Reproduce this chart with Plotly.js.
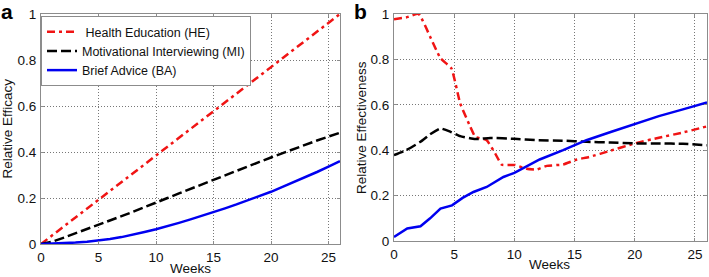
<!DOCTYPE html>
<html>
<head>
<meta charset="utf-8">
<script src="https://cdn.plot.ly/plotly-3.0.1.min.js"></script>
<style>html,body{margin:0;padding:0;background:#fff;}#chart{width:709px;height:277px;}</style>
</head>
<body>
<div id="chart"></div>
<script>
// ---- Data ----
const weeks = [0,1,2,3,4,5,6,7,8,9,10,11,12,13,14,15,16,17,18,19,20,21,22,23,24,25,26];

// Panel a: Relative Efficacy
const effHE = [0,0.038,0.077,0.115,0.154,0.192,0.231,0.269,0.308,0.346,0.385,0.423,0.462,0.5,0.538,0.577,0.615,0.654,0.692,0.731,0.769,0.808,0.846,0.885,0.923,0.962,1.0];
const effMI = [0,0.01,0.028,0.046,0.064,0.083,0.102,0.121,0.14,0.159,0.18,0.2,0.22,0.24,0.26,0.28,0.3,0.319,0.338,0.357,0.376,0.395,0.414,0.432,0.45,0.467,0.484];
const effBA = [0,0.001,0.003,0.006,0.01,0.015,0.022,0.03,0.04,0.052,0.064,0.077,0.092,0.107,0.122,0.138,0.155,0.172,0.19,0.208,0.227,0.248,0.269,0.291,0.313,0.336,0.36];

// Panel b: Relative Effectiveness
const weeksHEb = [0,1,2.05,3,3.86,4.77,5.5,6.34,6.75,7.7,8.4,8.96,10.06,11.0,11.85,12.7,14.05,15.2,16.2,18,20,22,24,26];
const effectHE = [0.977,0.985,1.0,0.9,0.805,0.76,0.606,0.503,0.459,0.444,0.386,0.336,0.335,0.318,0.315,0.331,0.337,0.359,0.37,0.398,0.43,0.455,0.478,0.505];
const weeksMIb = [0,1,2.2,3,3.86,4.7,5.5,6.75,7.98,10,11.85,14,16,18,20,22,24,26];
const effectMI = [0.378,0.4,0.437,0.47,0.496,0.481,0.462,0.449,0.454,0.45,0.444,0.442,0.437,0.434,0.43,0.43,0.428,0.422];
const weeksBAb = [0,1.1,2.2,3,3.86,4.82,5.7,6.6,7.7,9.09,10,12.1,14.05,15.98,18,20,22,24,26];
const effectBA = [0.018,0.055,0.065,0.1,0.143,0.157,0.19,0.216,0.238,0.282,0.3,0.359,0.4,0.444,0.48,0.515,0.55,0.58,0.61];

const seriesNames = [' Health Education (HE)', 'Motivational Interviewing (MI)', 'Brief Advice (BA)'];
const xTicks = [0,5,10,15,20,25];
const yTicks = [0,0.2,0.4,0.6,0.8,1];
const yTickText = ['0','0.2','0.4','0.6','0.8','1'];

// ---- Styles ----
const RED = 'rgb(240,20,20)', BLACK = '#000', BLUE = 'rgb(0,0,240)';
const styHE = {color: RED, width: 2.5, dash: '8px,4px,3px,4px'};
const styMI = {color: BLACK, width: 2.5, dash: '10px,4px'};
const styBA = {color: BLUE, width: 2.5};

const traces = [
  {x: weeks, y: effHE, name: seriesNames[0], mode: 'lines', line: styHE, xaxis: 'x', yaxis: 'y'},
  {x: weeks, y: effMI, name: seriesNames[1], mode: 'lines', line: styMI, xaxis: 'x', yaxis: 'y'},
  {x: weeks, y: effBA, name: seriesNames[2], mode: 'lines', line: styBA, xaxis: 'x', yaxis: 'y'},
  {x: weeksHEb, y: effectHE, name: seriesNames[0], mode: 'lines', line: Object.assign({shape:'spline', smoothing:0.4}, styHE), xaxis: 'x2', yaxis: 'y2', showlegend: false},
  {x: weeksMIb, y: effectMI, name: seriesNames[1], mode: 'lines', line: Object.assign({shape:'spline', smoothing:0.4}, styMI), xaxis: 'x2', yaxis: 'y2', showlegend: false},
  {x: weeksBAb, y: effectBA, name: seriesNames[2], mode: 'lines', line: styBA, xaxis: 'x2', yaxis: 'y2', showlegend: false}
];

const FONT = 'Liberation Sans, Arial, sans-serif';
const AXC = '#8c8c8c';
function xax(domain) {
  return {domain: domain, range: [0,26], tickvals: xTicks, ticktext: xTicks.map(String),
    showgrid: true, gridcolor: '#777', griddash: '1px,2px', gridwidth: 1, zeroline: false,
    showline: true, linecolor: AXC, linewidth: 1, mirror: 'ticks',
    ticks: 'inside', ticklen: 3, tickcolor: AXC,
    tickfont: {family: FONT, size: 13.5, color: '#111'}, ticklabelstandoff: 1, fixedrange: true};
}
function yax(domain, anchor) {
  return {domain: domain, anchor: anchor, range: [0,1], tickvals: yTicks, ticktext: yTickText,
    showgrid: true, gridcolor: '#777', griddash: '1px,2px', gridwidth: 1, zeroline: false,
    showline: true, linecolor: AXC, linewidth: 1, mirror: 'ticks',
    ticks: 'inside', ticklen: 3, tickcolor: AXC,
    tickfont: {family: FONT, size: 13.5, color: '#111'}, ticklabelstandoff: 1, fixedrange: true};
}

const W = 709, H = 277;
const layout = {
  width: W, height: H,
  margin: {l: 0, r: 0, t: 0, b: 0},
  paper_bgcolor: '#fff', plot_bgcolor: '#fff',
  font: {family: FONT, color: '#111'},
  xaxis: Object.assign(xax([41/W, 340/W]), {anchor: 'y'}),
  yaxis: yax([(H-244)/H, (H-14)/H], 'x'),
  xaxis2: Object.assign(xax([394/W, 707/W]), {anchor: 'y2'}),
  yaxis2: yax([(H-241)/H, (H-14)/H], 'x2'),
  showlegend: true,
  legend: {x: 41/W, y: (H-16)/H, xanchor: 'left', yanchor: 'top',
    bgcolor: '#fff', bordercolor: AXC, borderwidth: 1,
    font: {family: FONT, size: 12.5, color: '#111'}, tracegroupgap: 0, itemwidth: 30},
  annotations: [
    {text: '<b>a</b>', x: 0, y: 1, xref: 'paper', yref: 'paper', xanchor: 'left', yanchor: 'top', xshift: -1, yshift: 2, showarrow: false, font: {family: FONT, size: 21, color: '#000'}},
    {text: '<b>b</b>', x: 352/W, y: 1, xref: 'paper', yref: 'paper', xanchor: 'left', yanchor: 'top', yshift: 2, showarrow: false, font: {family: FONT, size: 21, color: '#000'}},
    {text: 'Weeks', x: 190/W, y: 0, xref: 'paper', yref: 'paper', xanchor: 'center', yanchor: 'bottom', yshift: 0, borderpad: 0, showarrow: false, font: {family: FONT, size: 13.5, color: '#111'}},
    {text: 'Weeks', x: 549/W, y: 0, xref: 'paper', yref: 'paper', xanchor: 'center', yanchor: 'bottom', yshift: 4, borderpad: 0, showarrow: false, font: {family: FONT, size: 13.5, color: '#111'}},
    {text: 'Relative Efficacy', x: 6.5/W, y: (H-129)/H, xref: 'paper', yref: 'paper', xanchor: 'center', yanchor: 'middle', textangle: -90, showarrow: false, font: {family: FONT, size: 13.5, color: '#111'}},
    {text: 'Relative Effectiveness', x: 361/W, y: (H-128)/H, xref: 'paper', yref: 'paper', xanchor: 'center', yanchor: 'middle', textangle: -90, showarrow: false, font: {family: FONT, size: 13.5, color: '#111'}}
  ]
};

Plotly.newPlot('chart', traces, layout, {displayModeBar: false, staticPlot: true});
</script>
</body>
</html>
